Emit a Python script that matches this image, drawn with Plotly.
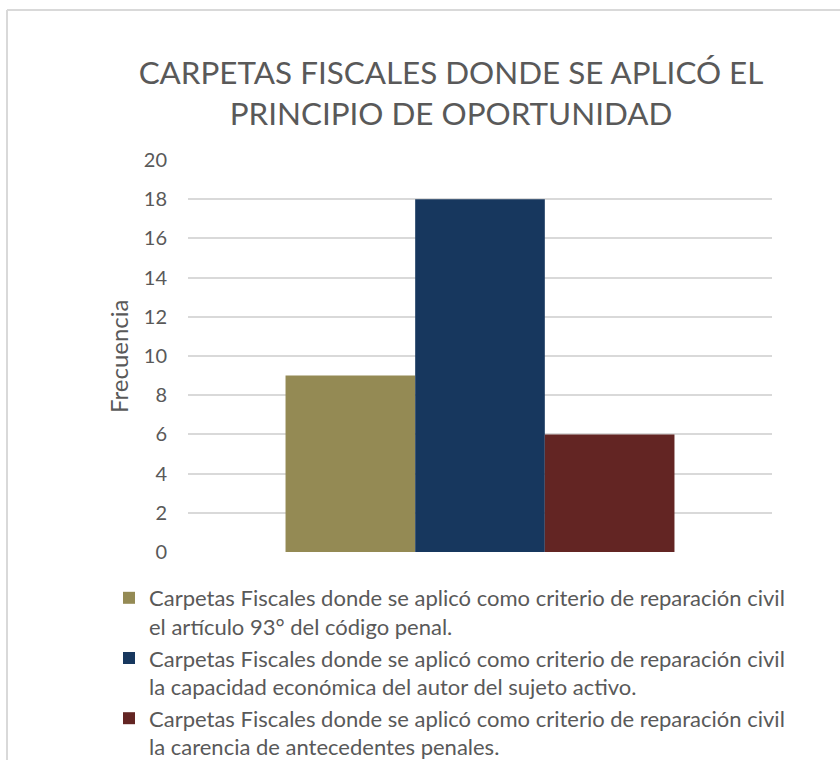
import plotly.graph_objects as go

categories = [""]
series_names = [
    "Carpetas Fiscales donde se aplicó como criterio de reparación civil<br>el artículo 93° del código penal.",
    "Carpetas Fiscales donde se aplicó como criterio de reparación civil<br>la capacidad económica del autor del sujeto activo.",
    "Carpetas Fiscales donde se aplicó como criterio de reparación civil<br>la carencia de antecedentes penales.",
]
series_values = [[9], [18], [6]]
series_colors = ["#948A54", "#17375E", "#632523"]
y_ticks = [0, 2, 4, 6, 8, 10, 12, 14, 16, 18, 20]
y_title = "Frecuencia"

FONT = "Lato"
GRAY = "#595959"

fig = go.Figure()
for i, (name, vals, col) in enumerate(zip(series_names, series_values, series_colors)):
    fig.add_trace(go.Bar(x=categories, y=vals, name=name, marker=dict(color=col, line=dict(width=0)),
                         legendgroup=f"g{i}"))

W, H = 840, 760
L, R, T, B = 188, 68, 160, 208
pw, ph = W - L - R, H - T - B

def px_x(p):
    return (p - L) / pw

def px_y(p):
    return (H - B - p) / ph

fig.update_layout(
    width=W, height=H,
    margin=dict(l=L, r=R, t=T, b=B, autoexpand=False),
    paper_bgcolor="white", plot_bgcolor="white",
    font=dict(family=FONT, color=GRAY),
    barmode="group", bargap=0.334, bargroupgap=0,
    title=dict(text="CARPETAS FISCALES DONDE SE APLICÓ EL<br>PRINCIPIO DE OPORTUNIDAD",
               x=451 / W, xref="container", xanchor="center",
               y=1 - 84 / H, yref="container", yanchor="top",
               font=dict(family=FONT, size=31.4, color=GRAY)),
    yaxis=dict(range=[0, 20], tickvals=y_ticks, showgrid=True, gridcolor="#D9D9D9", gridwidth=1.5,
               zeroline=False, showline=False, ticks="", ticklabelstandoff=20,
               tickfont=dict(family=FONT, size=20, color=GRAY)),
    xaxis=dict(showticklabels=False, showgrid=False, zeroline=False, showline=False, ticks=""),
    annotations=[dict(text=y_title, xref="paper", yref="paper", x=px_x(118), y=0.5,
                      xanchor="center", yanchor="middle", textangle=-90, showarrow=False,
                      font=dict(family=FONT, size=24, color=GRAY))],
    showlegend=True,
    legend=dict(orientation="v", x=px_x(109), xanchor="left",
                y=px_y(577), yanchor="top", valign="top",
                font=dict(family=FONT, size=22, color=GRAY), tracegroupgap=10,
                bgcolor="rgba(0,0,0,0)", traceorder="normal"),
    shapes=[
        dict(type="line", xref="paper", yref="paper", x0=px_x(7), x1=px_x(7), y0=px_y(10), y1=px_y(800),
             line=dict(color="#D9D9D9", width=2)),
        dict(type="line", xref="paper", yref="paper", x0=px_x(7), x1=px_x(900), y0=px_y(10), y1=px_y(10),
             line=dict(color="#D9D9D9", width=2)),
    ],
)
fig.write_html("out.html", config={"displayModeBar": False},
               post_script="document.body.style.margin='0';")
